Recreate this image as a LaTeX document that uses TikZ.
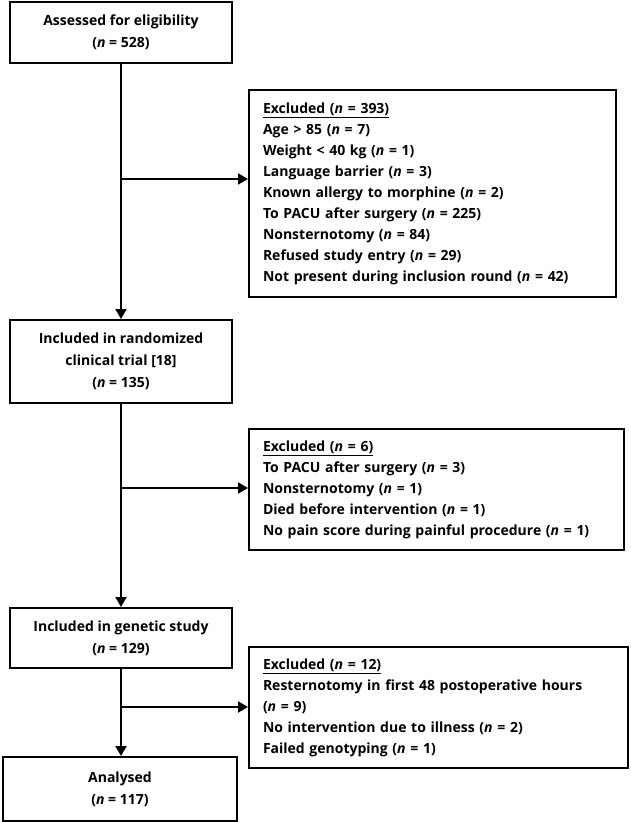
\documentclass[tikz,border=0pt]{standalone}
\usepackage{fontspec}
\setmainfont{Open Sans}
\usetikzlibrary{arrows.meta}
\begin{document}
\begin{tikzpicture}[x=1pt,y=-1pt,
  box/.style={draw=black,line width=2pt,rectangle,inner sep=0pt,align=center,
    font=\fontsize{14}{22}\selectfont\bfseries},
  exbox/.style={draw=black,line width=2pt,rectangle,inner xsep=14pt,inner ysep=0pt,
    align=left,font=\fontsize{14}{21}\selectfont\bfseries},
  flow/.style={line width=2pt,-{Triangle[length=10pt,width=11pt]}},
  seg/.style={line width=2pt}]
\useasboundingbox (0,0) rectangle (630,822);
\node[box,minimum width=222pt,minimum height=61pt] (b1) at (121,32.5)
  {Assessed for eligibility\\(\textit{n} = 528)};
\node[box,minimum width=222pt,minimum height=83pt] (b2) at (121,361.5)
  {Included in randomized\\clinical trial [18]\\(\textit{n} = 135)};
\node[box,minimum width=222pt,minimum height=60pt] (b3) at (121,638)
  {Included in genetic study\\(\textit{n} = 129)};
\node[box,minimum width=234pt,minimum height=64pt] (b4) at (120,789)
  {Analysed\\(\textit{n} = 117)};
\node[exbox,minimum width=367pt,minimum height=207pt,text width=339pt] (e1) at (432.5,193.5)
  {\underline{Excluded (\textit{n} = 393)}\\
   Age > 85 (\textit{n} = 7)\\
   Weight < 40 kg (\textit{n} = 1)\\
   Language barrier (\textit{n} = 3)\\
   Known allergy to morphine (\textit{n} = 2)\\
   To PACU after surgery (\textit{n} = 225)\\
   Nonsternotomy (\textit{n} = 84)\\
   Refused study entry (\textit{n} = 29)\\
   Not present during inclusion round (\textit{n} = 42)};
\node[exbox,minimum width=375pt,minimum height=121pt,text width=347pt] (e2) at (436.5,489.5)
  {\underline{Excluded (\textit{n} = 6)}\\
   To PACU after surgery (\textit{n} = 3)\\
   Nonsternotomy (\textit{n} = 1)\\
   Died before intervention (\textit{n} = 1)\\
   No pain score during painful procedure (\textit{n} = 1)};
\node[exbox,minimum width=379pt,minimum height=121pt,text width=351pt] (e3) at (438.5,707.5)
  {\underline{Excluded (\textit{n} = 12)}\\
   Resternotomy in first 48 postoperative hours\\
   (\textit{n} = 9)\\
   No intervention due to illness (\textit{n} = 2)\\
   Failed genotyping (\textit{n} = 1)};
\coordinate (j1) at (121,179);
\coordinate (j2) at (121,488);
\coordinate (j3) at (121,707);
\draw[flow] (b1.south) -- (b2.north);
\draw[flow] (j1) -- (j1 -| e1.west);
\draw[flow] (b2.south) -- (b3.north);
\draw[flow] (j2) -- (j2 -| e2.west);
\draw[flow] (b3.south) -- (b3.south |- b4.north);
\draw[flow] (j3) -- (j3 -| e3.west);
\end{tikzpicture}
\end{document}
